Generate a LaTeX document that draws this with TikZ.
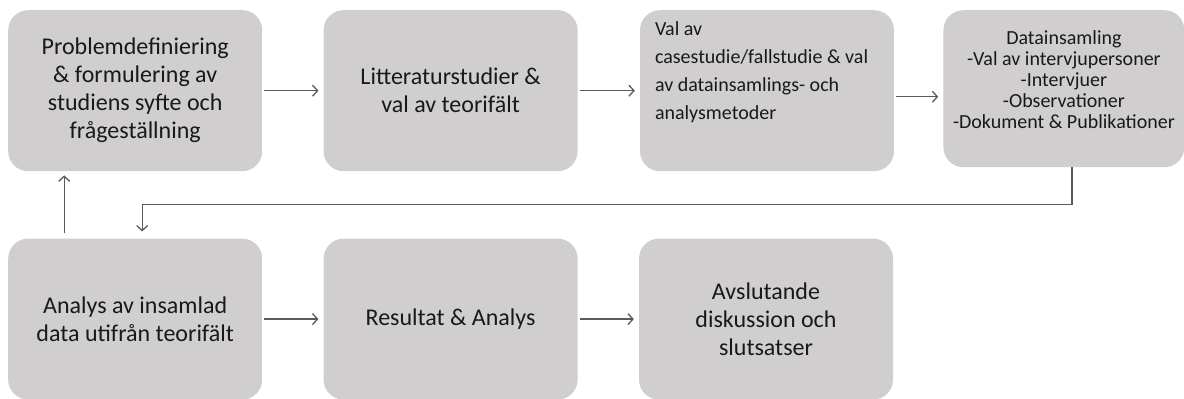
\documentclass[tikz,border=0pt]{standalone}
\usepackage{fontspec}
\setmainfont{Carlito}
\usetikzlibrary{arrows.meta}
\usetikzlibrary{positioning}

\definecolor{boxgrey}{RGB}{208,206,207}
\definecolor{arrowgrey}{RGB}{90,90,90}

\begin{document}
\begin{tikzpicture}
\path[use as bounding box] (0,0) rectangle (1184pt,-399pt);

\begin{scope}[every node/.style={fill=boxgrey,rectangle,rounded corners=20pt,
                                 minimum width=254pt,minimum height=161pt,
                                 align=center,text=black!90,
                                 font=\fontsize{24}{28}\selectfont}]
    \node[anchor=north west] (prob_def) at (8pt,-10pt) {Problemdefiniering\\ \& formulering av\\ studiens syfte och\\ frågeställning};
    \node[right=61pt of {prob_def}]  (lit_stud) {Litteraturstudier \&\\ val av teorifält};
    \node[right=62pt of {lit_stud}, inner xsep=14pt, inner ysep=11.5pt] (method)
        {\parbox[t][138pt][t]{224pt}{\raggedright\fontsize{20}{28}\selectfont
         Val av\\ casestudie/fallstudie \& val\\ av datainsamlings- och\\ analysmetoder}};
    \node[right=49pt of {method.north east}, anchor=north west,
          minimum width=241pt, minimum height=157pt, inner xsep=4pt, inner ysep=20.5pt] (data_coll)
        {\parbox[t][116pt][t]{233pt}{\centering\fontsize{20}{21}\selectfont
         Datainsamling\\ -Val av intervjupersoner\\ -Intervjuer\\ -Observationer\\ -Dokument \& Publikationer}};
    \node[below=67pt of {prob_def}]  (analys) {Analys av insamlad\\ data utifrån teorifält};
    \node[right=61pt of {analys}]    (result) {Resultat \& Analys};
    \node[right=61pt of {result}]    (conclusion) {Avslutande\\ diskussion och\\ slutsatser};
\end{scope}

\begin{scope}[>={Straight Barb[length=5pt,width=11pt]},
              every edge/.style={draw=arrowgrey,line width=1.3pt,shorten <=2pt,shorten >=5pt}]
    \path [->] (prob_def) edge (lit_stud);
    \path [->] (lit_stud) edge (method);
    \path [->] ([yshift=-6pt]method.east) edge ([yshift=-6pt]method.east -| data_coll.west);
    \path [->] (analys)   edge (result);
    \path [->] (result)   edge (conclusion);
    \path [->] ([xshift=-71pt]analys.north) edge[shorten <=5pt,shorten >=4pt] ([xshift=-71pt]prob_def.south);
    % feedback from data collection down to the analysis
    \draw [->,arrowgrey,line width=1.3pt,shorten >=7pt] ([xshift=8pt]data_coll.south) -- ++(0,-37pt) -| ([xshift=7pt]analys.north);
\end{scope}
\end{tikzpicture}
\end{document}
